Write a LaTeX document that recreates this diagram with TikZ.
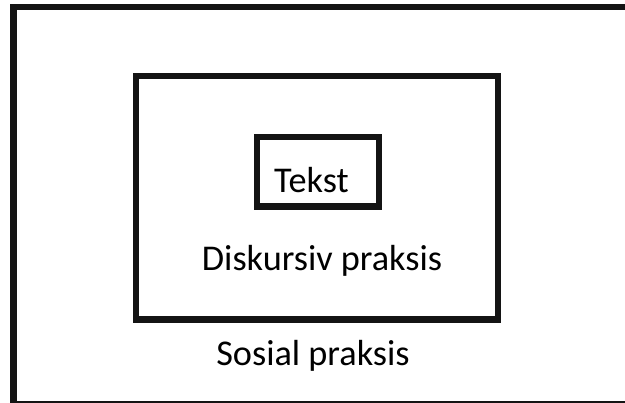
\documentclass[tikz,border=0pt]{standalone}
\usepackage{fontspec}
\setmainfont{Carlito}
\begin{document}
\begin{tikzpicture}[x=0.75pt,y=-0.75pt,
  frame/.style={draw=black!92,line width=4.6pt,line join=miter},
  label/.style={font=\fontsize{27.2pt}{32pt}\selectfont,anchor=base,inner sep=0pt}]
\useasboundingbox (0,0) rectangle (625,403);
\clip (0,0) rectangle (625,403);
% outer frame (social practice), running past the right and bottom edges
\draw[frame] (13.5,7) rectangle (660,404);
% discursive practice
\draw[frame] (136,76) rectangle (498,319.5);
% text
\draw[frame] (257,137) rectangle (379,206.5);
\node[label] (tekst) at (311.5,192.7) {Tekst};
\node[label] (disk) at (322,270.7) {Diskursiv praksis};
\node[label] (sosial) at (313,365) {Sosial praksis};
\end{tikzpicture}
\end{document}
